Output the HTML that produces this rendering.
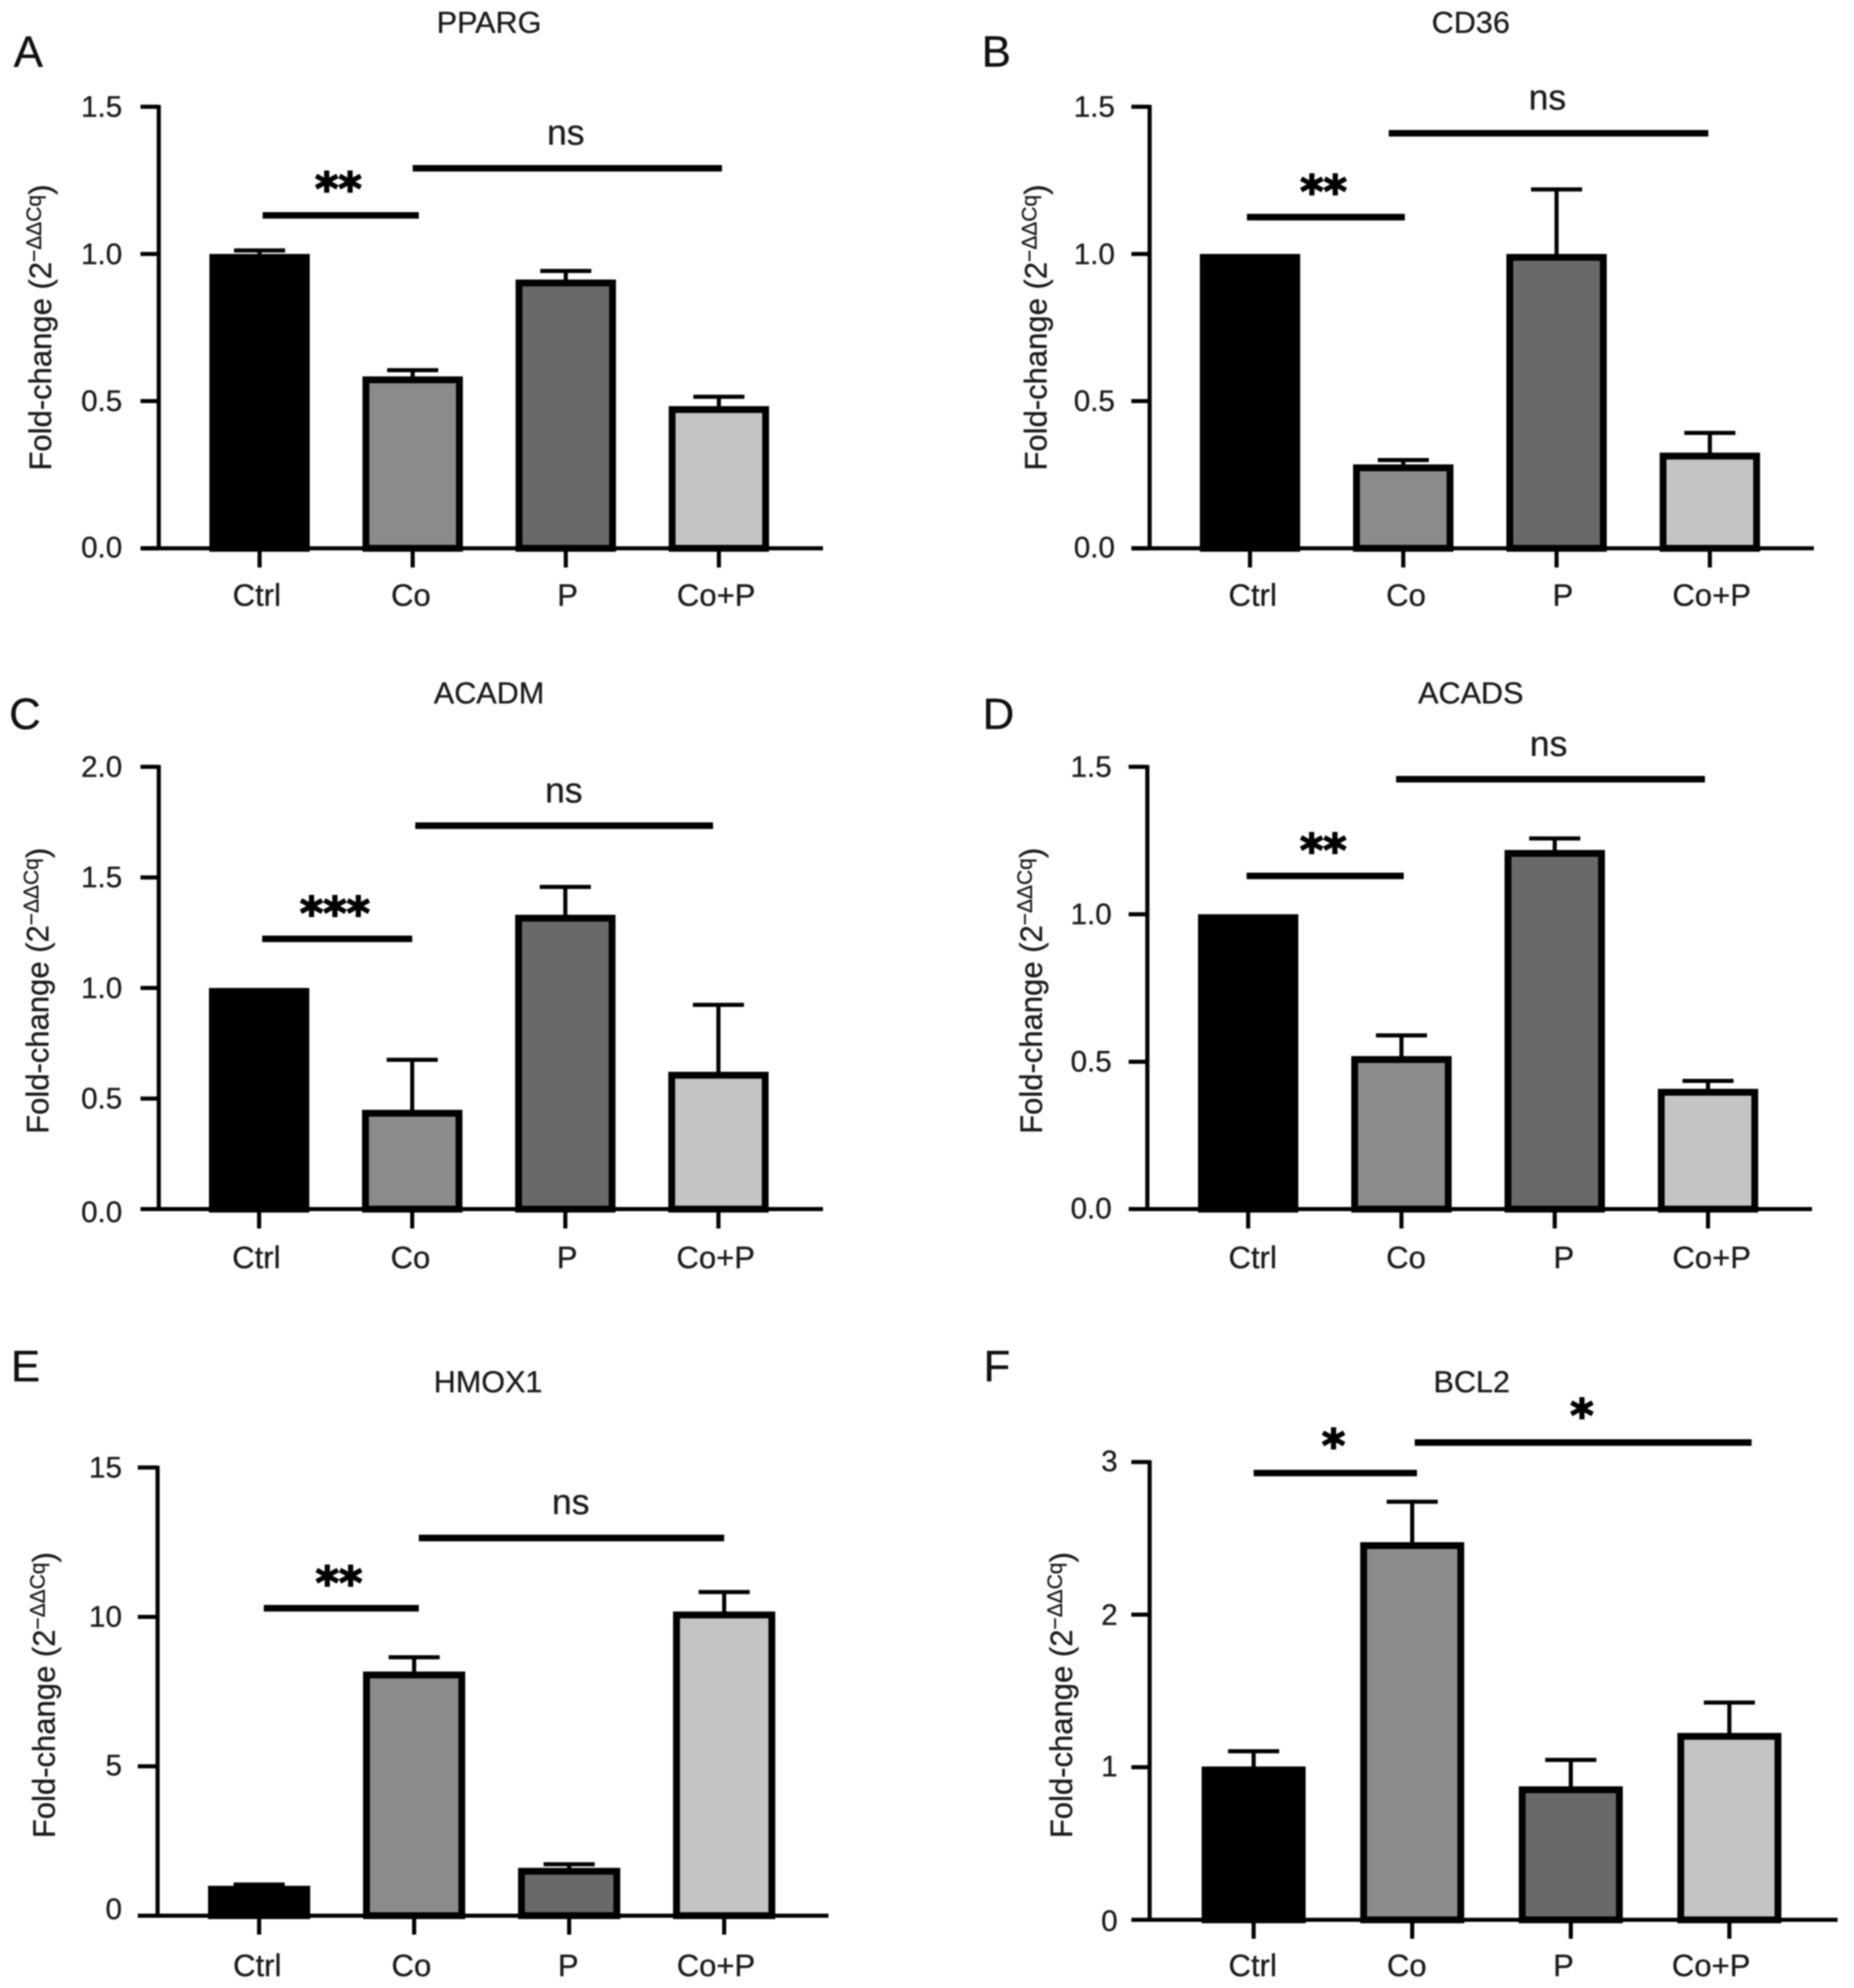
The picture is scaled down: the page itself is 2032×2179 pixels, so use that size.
<!DOCTYPE html>
<html lang="en">
<head>
<meta charset="utf-8">
<title>Fold-change bar charts</title>
<style>
html,body{margin:0;padding:0;background:#fff;width:2032px;height:2179px;overflow:hidden}
svg{display:block;filter:blur(0.7px)}
text{font-family:"Liberation Sans",Arial,sans-serif;fill:#1c1c1c;stroke:#1c1c1c;stroke-width:0.35px}
text.stars{font-family:"DejaVu Sans",sans-serif;font-weight:bold;fill:#000;stroke:#000;stroke-width:1.6px}
text.letter{fill:#111;stroke:#111}
</style>
</head>
<body>
<svg id="figure" xmlns="http://www.w3.org/2000/svg" width="2032" height="2179" viewBox="0 0 2032 2179">
<rect x="0" y="0" width="2032" height="2179" fill="#fff"/>
</svg>
<script>
// ---------- data ----------
const categories = ['Ctrl', 'Co', 'P', 'Co+P'];

const ppargTicks = ['0.0', '0.5', '1.0', '1.5'];
const ppargValues = [1.0, 0.584, 0.913, 0.483];
const ppargErrors = [1.012, 0.605, 0.942, 0.515];

const cd36Ticks = ['0.0', '0.5', '1.0', '1.5'];
const cd36Values = [1.0, 0.285, 1.0, 0.325];
const cd36Errors = [null, 0.30, 1.219, 0.392];

const acadmTicks = ['0.0', '0.5', '1.0', '1.5', '2.0'];
const acadmValues = [1.0, 0.449, 1.331, 0.621];
const acadmErrors = [null, 0.675, 1.457, 0.924];

const acadsTicks = ['0.0', '0.5', '1.0', '1.5'];
const acadsValues = [1.0, 0.519, 1.218, 0.408];
const acadsErrors = [null, 0.589, 1.257, 0.435];

const hmox1Ticks = ['0', '5', '10', '15'];
const hmox1Values = [1.0, 8.17, 1.6, 10.18];
const hmox1Errors = [1.04, 8.65, 1.72, 10.83];

const bcl2Ticks = ['0', '1', '2', '3'];
const bcl2Values = [1.005, 2.475, 0.875, 1.225];
const bcl2Errors = [1.105, 2.74, 1.048, 1.424];

// significance annotations, in axis units (category index / y value)
const ppargSig = [[0.02, 1.04, 1.131, '**', 0.515, 1.246], [1.0, 3.02, 1.291, 'ns', 2.0, 1.405]];
const cd36Sig = [[-0.02, 1.01, 1.125, '**', 0.48, 1.236], [0.905, 2.99, 1.41, 'ns', 1.94, 1.525]];
const acadmSig = [[0.02, 1.0, 1.222, '***', 0.495, 1.37], [1.02, 2.965, 1.734, 'ns', 1.99, 1.884]];
const acadsSig = [[-0.01, 1.015, 1.13, '**', 0.49, 1.241], [0.965, 2.98, 1.458, 'ns', 1.96, 1.571]];
const hmox1Sig = [[0.03, 1.03, 10.29, '**', 0.515, 11.38], [1.03, 3.0, 12.64, 'ns', 2.01, 13.78]];
const bcl2Sig = [[0.0, 1.03, 2.928, '*', 0.504, 3.155], [1.016, 3.14, 3.128, '*', 2.07, 3.353]];

// ---------- layout (pixels) ----------
const panels = [
  {id:'pparg', title:'PPARG', letter:'A', ticks:ppargTicks, values:ppargValues, errors:ppargErrors, sig:ppargSig,
   axisX:174, axisLeft:154, axisRight:902, y0:601, yTop:117, x0:284.5, step:167.8, barW:110, tickEnd:622,
   labelY:664, labelDx:[-3,-2,2,-3], tickGap:40, tickDy:[-1,0,0,0], titleX:536, titleY:36, letterX:15, letterY:73, yTitleX:56, yTitleC:359},
  {id:'cd36', title:'CD36', letter:'B', ticks:cd36Ticks, values:cd36Values, errors:cd36Errors, sig:cd36Sig,
   axisX:1260, axisLeft:1240, axisRight:1988, y0:601, yTop:117, x0:1370, step:168, barW:110, tickEnd:622,
   labelY:664, labelDx:[3,3,7,2], tickGap:38, tickDy:[-1,0,0,0], titleX:1612, titleY:36, letterX:1076, letterY:73, yTitleX:1147, yTitleC:359},
  {id:'acadm', title:'ACADM', letter:'C', ticks:acadmTicks, values:acadmValues, errors:acadmErrors, sig:acadmSig,
   axisX:174, axisLeft:154, axisRight:902, y0:1325.3, yTop:840.5, x0:284, step:167.8, barW:110, tickEnd:1346.5,
   labelY:1390, labelDx:[-3,-2,2,-3], tickGap:40, tickDy:[3,0,0,0,0], titleX:536, titleY:771, letterX:10, letterY:799, yTitleX:53, yTitleC:1086},
  {id:'acads', title:'ACADS', letter:'D', ticks:acadsTicks, values:acadsValues, errors:acadsErrors, sig:acadsSig,
   axisX:1257.5, axisLeft:1237, axisRight:1986, y0:1325.3, yTop:840.5, x0:1368, step:168, barW:110, tickEnd:1346.5,
   labelY:1390, labelDx:[5,5,10,4], tickGap:39, tickDy:[-1,0,0,0], titleX:1612, titleY:771, letterX:1077, letterY:799, yTitleX:1142, yTitleC:1086},
  {id:'hmox1', title:'HMOX1', letter:'E', ticks:hmox1Ticks, values:hmox1Values, errors:hmox1Errors, sig:hmox1Sig,
   axisX:172.7, axisLeft:151, axisRight:908, y0:2099.7, yTop:1608.5, x0:284, step:169.9, barW:112, tickEnd:2120.5,
   labelY:2166, labelDx:[-2,-3,-1,-9], tickGap:39, tickDy:[-7,-1,0,0], titleX:535, titleY:1526, letterX:12, letterY:1514, yTitleX:60, yTitleC:1858},
  {id:'bcl2', title:'BCL2', letter:'F', ticks:bcl2Ticks, values:bcl2Values, errors:bcl2Errors, sig:bcl2Sig,
   axisX:1260, axisLeft:1240, axisRight:2014, y0:2104.3, yTop:1602.5, x0:1374, step:173.8, barW:114, tickEnd:2125,
   labelY:2166, labelDx:[-1,-6,-8,-20], tickGap:35, tickDy:[1,-1,0,-1], titleX:1613, titleY:1526, letterX:1078, letterY:1514, yTitleX:1175, yTitleC:1858}
];
const barFills = ['#000000', '#8b8b8b', '#696969', '#c4c4c4'];
const BAR_STROKE = 7.5;

// ---------- drawing ----------
const NS = 'http://www.w3.org/2000/svg';
const figure = document.getElementById('figure');

function make(tag, parent, attrs, txt) {
  const el = document.createElementNS(NS, tag);
  for (const k in attrs) el.setAttribute(k, attrs[k]);
  if (txt !== undefined) el.textContent = txt;
  parent.appendChild(el);
  return el;
}

panels.forEach(function (p) {
  const yMax = parseFloat(p.ticks[p.ticks.length - 1]);
  const yScale = function (v) { return p.y0 - (v / yMax) * (p.y0 - p.yTop); };
  const xScale = function (i) { return p.x0 + i * p.step; };

  const g = make('g', figure, {});
  
  

  const letter = make('text', g, {x:p.letterX, y:p.letterY, 'font-size':48, 'class':'letter'}, p.letter);
  
  

  const title = make('text', g, {x:p.titleX, y:p.titleY, 'font-size':33.5, 'text-anchor':'middle'}, p.title);
  
  

  const yTitle = make('text', g, {'font-size':34, 'text-anchor':'middle',
    transform:'translate(' + p.yTitleX + ',' + p.yTitleC + ') rotate(-90)'});
  
  
  make('tspan', yTitle, {}, 'Fold-change (2');
  make('tspan', yTitle, {dy:-11, 'font-size':23}, '\u2212\u0394\u0394Cq');
  make('tspan', yTitle, {dy:11}, ')');

  // error bars (behind bars)
  p.errors.forEach(function (e, i) {
    if (e === null) return;
    const cx = xScale(i);
    const stem = make('line', g, {x1:cx, x2:cx, y1:yScale(p.values[i]) + 4, y2:yScale(e), stroke:'#000', 'stroke-width':4.5});
    
    
    const cap = make('line', g, {x1:cx - 28, x2:cx + 28, y1:yScale(e), y2:yScale(e), stroke:'#000', 'stroke-width':4.5});
    
    
  });

  // bars
  p.values.forEach(function (v, i) {
    const top = yScale(v);
    const bar = make('rect', g, {
      x: xScale(i) - p.barW / 2 + BAR_STROKE / 2,
      y: top + BAR_STROKE / 2,
      width: p.barW - BAR_STROKE,
      height: Math.max(0, p.y0 - top - BAR_STROKE / 2),
      fill: barFills[i], stroke: '#000', 'stroke-width': BAR_STROKE
    });
    
    
  });

  // axes
  const yAxis = make('line', g, {x1:p.axisX, x2:p.axisX, y1:p.yTop - 2, y2:p.y0 + 2, stroke:'#000', 'stroke-width':4.5});
  
  
  const xAxis = make('line', g, {x1:p.axisLeft, x2:p.axisRight, y1:p.y0, y2:p.y0, stroke:'#000', 'stroke-width':4.5});
  
  

  p.ticks.forEach(function (t, k) {
    const y = yScale(parseFloat(t));
    const mark = make('line', g, {x1:p.axisLeft, x2:p.axisX, y1:y, y2:y, stroke:'#000', 'stroke-width':4.5});
    
    
    const lab = make('text', g, {x:p.axisX - p.tickGap, y:y + 11 + p.tickDy[k], 'font-size':32.5, 'text-anchor':'end'}, t);
    
    
  });

  categories.forEach(function (c, i) {
    const x = xScale(i);
    const mark = make('line', g, {x1:x, x2:x, y1:p.y0, y2:p.tickEnd, stroke:'#000', 'stroke-width':4.5});
    
    
    const lab = make('text', g, {x:x + p.labelDx[i], y:p.labelY, 'font-size':34, 'text-anchor':'middle'}, c);
    
    
  });

  // significance annotations
  p.sig.forEach(function (s, i) {
    const yb = yScale(s[2]);
    const line = make('line', g, {x1:xScale(s[0]), x2:xScale(s[1]), y1:yb, y2:yb, stroke:'#000', 'stroke-width':7.2});
    
    
    const isNs = s[3] === 'ns';
    const label = make('text', g, {
      x: xScale(s[4]),
      y: yScale(s[5]) + (isNs ? 11 : 25),
      'font-size': isNs ? 39 : 49,
      'text-anchor': 'middle'
    }, s[3]);
    if (!isNs) label.setAttribute('class', 'stars');
    
    
  });
});
</script>
</body>
</html>
